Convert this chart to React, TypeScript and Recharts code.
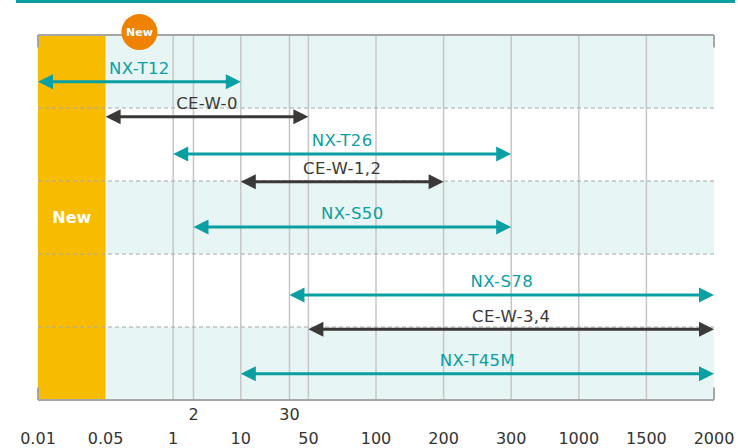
import { ComposedChart, ReferenceArea, ReferenceDot, ReferenceLine, Scatter, XAxis, YAxis } from 'recharts';

// x axis: main ticks sit at evenly spaced slots, the two extra ticks fall in between
const mainTicks = [0.01, 0.05, 1, 10, 50, 100, 200, 300, 1000, 1500, 2000];
const mainTickLabels = ['0.01', '0.05', '1', '10', '50', '100', '200', '300', '1000', '1500', '2000'];
const extraTicks = [2, 30];
const extraTickLabels = ['2', '30'];
const extraTickSlots = [2.3, 3.72];

// products: range from / to, vertical position (band units from the top)
const productNames = ['NX-T12', 'CE-W-0', 'NX-T26', 'CE-W-1,2', 'NX-S50', 'NX-S78', 'CE-W-3,4', 'NX-T45M'];
const productFamily = ['NX', 'CE', 'NX', 'CE', 'NX', 'NX', 'CE', 'NX'];
const rangeFrom = [0.01, 0.05, 1, 10, 2, 30, 50, 10];
const rangeTo = [10, 50, 300, 200, 300, 2000, 2000, 2000];
const rowPos = [0.64, 1.12, 1.63, 2.01, 2.63, 3.56, 4.03, 4.64];

const bandCount = 5;
const shadedBands = [0, 2, 4];

const TEAL = '#0a9fa2';
const DARK = '#3b3838';
const ORANGE = '#f7bb00';
const BADGE = '#ef8200';
const SHADE = '#e8f5f5';
const GRID = '#c6c6c6';
const FRAME = '#a6a6a6';
const FONT = '"DejaVu Sans", sans-serif';

function slot(v: number): number {
  const i = mainTicks.indexOf(v);
  if (i >= 0) return i;
  return extraTickSlots[extraTicks.indexOf(v)];
}

const tickSlots = [...mainTicks.map((_, i) => i), ...extraTickSlots].sort((a, b) => a - b);

const chartData = productNames.map((name, i) => ({
  name,
  x: slot(rangeFrom[i]),
  x2: slot(rangeTo[i]),
  y: rowPos[i],
}));

function AxisTick(props: any) {
  const { x, y, payload } = props;
  const v = payload.value as number;
  const ei = extraTickSlots.indexOf(v);
  const label = ei >= 0 ? extraTickLabels[ei] : mainTickLabels[Math.round(v)];
  return (
    <text x={x} y={ei >= 0 ? y + 12 : y + 35.5} textAnchor="middle" fill="#333" fontSize={16} fontFamily={FONT}>
      {label}
    </text>
  );
}

function arrowShape(name: string, color: string) {
  return (p: any) => {
    const { x1, y1, x2 } = p;
    const head = 15;
    const half = 7.5;
    const y = y1;
    return (
      <g>
        <line x1={x1 + head - 1} y1={y} x2={x2 - head + 1} y2={y} stroke={color} strokeWidth={3} />
        <polygon points={`${x1},${y} ${x1 + head},${y - half} ${x1 + head},${y + half}`} fill={color} />
        <polygon points={`${x2},${y} ${x2 - head},${y - half} ${x2 - head},${y + half}`} fill={color} />
        <text
          x={(x1 + x2) / 2}
          y={y - 7.5}
          textAnchor="middle"
          fill={color}
          fontSize={16.5}
          letterSpacing={0.4}
          fontFamily={FONT}
        >
          {name}
        </text>
      </g>
    );
  };
}

function Badge(props: any) {
  const { cx, cy } = props;
  return (
    <g>
      <circle cx={cx} cy={cy} r={18} fill={BADGE} />
      <text x={cx} y={cy + 4} textAnchor="middle" fill="#fff" fontSize={11} fontWeight="bold" fontFamily={FONT}>
        New
      </text>
    </g>
  );
}

export default function App() {
  const last = mainTicks.length - 1;
  return (
    <div style={{ position: 'absolute', left: 0, top: 0, width: 738, height: 448, background: '#fff' }}>
      <div style={{ position: 'absolute', left: 16, top: 0, width: 719, height: 2.5, background: TEAL }} />
      <ComposedChart width={738} height={448} data={chartData} margin={{ top: 35, right: 24, bottom: 0, left: 38 }}>
        <XAxis
          type="number"
          dataKey="x"
          domain={[0, last]}
          ticks={tickSlots}
          interval={0}
          tick={<AxisTick />}
          axisLine={false}
          tickLine={false}
          height={48}
          allowDataOverflow
        />
        <YAxis type="number" dataKey="y" domain={[0, bandCount]} reversed hide allowDataOverflow />

        {shadedBands.map((b) => (
          <ReferenceArea key={`band-${b}`} x1={1} x2={last} y1={b} y2={b + 1} fill={SHADE} fillOpacity={1} stroke="none" />
        ))}
        <ReferenceArea
          x1={0}
          x2={1}
          y1={0}
          y2={bandCount}
          fill={ORANGE}
          fillOpacity={1}
          stroke="none"
          label={{ value: 'New', position: 'center', fill: '#fff', fontSize: 16, fontWeight: 'bold', fontFamily: FONT }}
        />

        {tickSlots
          .filter((s) => s > 1 && s < last)
          .map((s) => (
            <ReferenceLine key={`grid-${s}`} x={s} stroke={GRID} strokeWidth={1.5} />
          ))}
        {[1, 2, 3, 4].map((r) => (
          <ReferenceLine key={`row-${r}`} y={r} stroke="#a8a8a8" strokeWidth={1} strokeDasharray="4 3" />
        ))}

        <ReferenceLine y={0} stroke={FRAME} strokeWidth={2} />
        <ReferenceLine y={bandCount} stroke={FRAME} strokeWidth={2} />
        <ReferenceLine segment={[{ x: 0, y: 0 }, { x: 0, y: 0.17 }]} stroke={FRAME} strokeWidth={2} />
        <ReferenceLine segment={[{ x: last, y: 0 }, { x: last, y: 0.17 }]} stroke={FRAME} strokeWidth={2} />
        <ReferenceLine segment={[{ x: 0, y: bandCount - 0.17 }, { x: 0, y: bandCount }]} stroke={FRAME} strokeWidth={2} />
        <ReferenceLine segment={[{ x: last, y: bandCount - 0.17 }, { x: last, y: bandCount }]} stroke={FRAME} strokeWidth={2} />

        {chartData.map((d, i) => (
          <ReferenceLine
            key={d.name}
            segment={[
              { x: d.x, y: d.y },
              { x: d.x2, y: d.y },
            ]}
            shape={arrowShape(d.name, productFamily[i] === 'NX' ? TEAL : DARK)}
          />
        ))}

        <Scatter dataKey="y" isAnimationActive={false} shape={() => <g />} legendType="none" />

        <ReferenceDot x={1.5} y={-0.04} ifOverflow="visible" shape={<Badge />} />
      </ComposedChart>
    </div>
  );
}
